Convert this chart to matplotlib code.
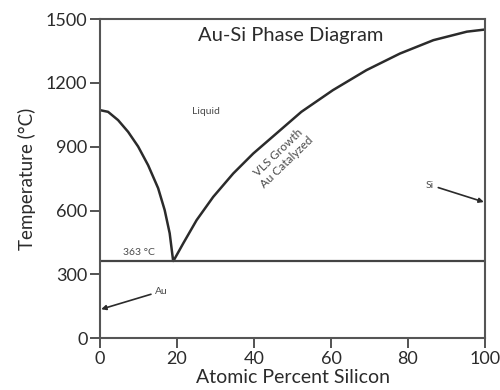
import numpy as np
import matplotlib.pyplot as plt

plt.rcParams["font.family"] = ["Lato", "DejaVu Sans"]

# liquidus on the Au side (at.% Si, degC)
au_x = [0, 2.1, 4.7, 7.3, 9.9, 12.5, 15.1, 16.8, 18.1, 19]
au_t = [1072, 1064, 1025, 970, 901, 813, 705, 602, 493, 363]

# liquidus on the Si side
si_x = [19, 19.2, 21.6, 25.1, 29.4, 34.6, 39.8, 45.8, 52.3,
        60.5, 69.2, 77.9, 86.6, 95.3, 100]
si_t = [363, 367, 445, 555, 664, 774, 868, 962, 1064,
        1166, 1260, 1338, 1401, 1441, 1451]

eutectic_t = 363
x_ticks = [0, 20, 40, 60, 80, 100]
y_ticks = [0, 300, 600, 900, 1200, 1500]

ink = "#2b2b2b"
soft = "#4a4a4a"
fig = plt.figure(figsize=(5, 3.9), dpi=100)
ax = fig.add_axes([0.2, 0.133, 0.77, 0.818])

ax.plot(au_x, au_t, color=ink, lw=1.8, solid_capstyle="round")
ax.plot(si_x, si_t, color=ink, lw=1.8, solid_capstyle="round")
ax.axhline(eutectic_t, color="#444444", lw=1.6)

ax.set_xlim(0, 100)
ax.set_ylim(0, 1500)
ax.set_xticks(x_ticks)
ax.set_yticks(y_ticks)
ax.tick_params(direction="out", length=7, width=1.3, labelsize=13,
               color="#444444", labelcolor=ink, pad=2)
for s in ax.spines.values():
    s.set_linewidth(1.5)
    s.set_color("#555555")

ax.set_xlabel("Atomic Percent Silicon", fontsize=14, color=ink, labelpad=2)
ax.set_ylabel("Temperature (°C)", fontsize=13.5, color=ink, labelpad=7)

ax.text(49.4, 1424, "Au-Si Phase Diagram", fontsize=14.5, color=ink,
        ha="center", va="center")
ax.text(27.5, 1067, "Liquid", fontsize=7.5, color=soft,
        ha="center", va="center")
ax.text(10, 404, "363 °C", fontsize=7.5, color=soft,
        ha="center", va="center")
ax.text(47.4, 850, "VLS Growth\nAu Catalyzed", fontsize=8.5, color=soft,
        ha="center", va="center", rotation=44, linespacing=1.15)

arrow = dict(arrowstyle="-|>", color=ink, lw=1.2, mutation_scale=7,
             shrinkA=1, shrinkB=0)
ax.annotate("Au", xy=(0.3, 136), xytext=(14.3, 221), fontsize=7.5,
            color=soft, va="center", ha="left", arrowprops=arrow)
ax.annotate("Si", xy=(99.7, 640), xytext=(86.8, 720), fontsize=7.5,
            color=soft, va="center", ha="right", arrowprops=arrow)

fig.savefig("out.png", dpi=100)
